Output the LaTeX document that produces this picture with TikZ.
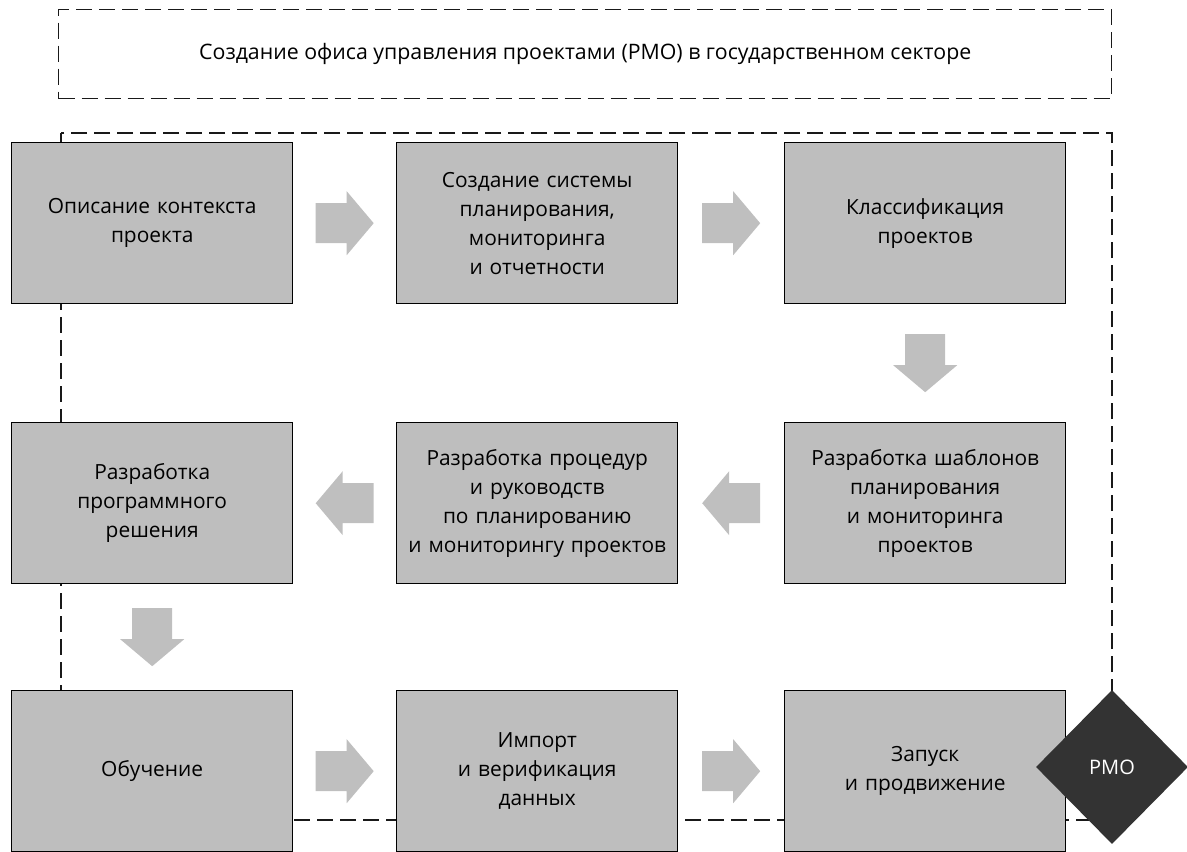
\documentclass[tikz,border=0pt]{standalone}
\usepackage{fontspec}
\setmainfont{Open Sans}
\usetikzlibrary{shapes.geometric,calc}
\definecolor{boxgray}{HTML}{BEBEBE}
\definecolor{arrowgray}{HTML}{BFBFBF}
\definecolor{pmodark}{HTML}{333333}
\tikzset{
  stepbox/.style={draw=black, line width=1.4pt, fill=boxgray, minimum width=281pt, minimum height=161pt,
    inner sep=0pt, align=center, text width=278pt, font=\fontsize{20.9}{29}\selectfont, anchor=north west},
  frame/.style={draw=black!90, line width=1.4pt, dash pattern=on 16pt off 7pt},
  rarrow/.pic={\fill[arrowgray] (-29,-20) -- (2,-20) -- (2,-32) -- (29,0) -- (2,32) -- (2,20) -- (-29,20) -- cycle;},
  larrow/.pic={\fill[arrowgray] (29,-20) -- (-2,-20) -- (-2,-32) -- (-29,0) -- (-2,32) -- (-2,20) -- (29,20) -- cycle;},
  darrow/.pic={\fill[arrowgray] (-20,-29) -- (-20,2) -- (-32,2) -- (0,29) -- (32,2) -- (20,2) -- (20,-29) -- cycle;},
}
\begin{document}
\begin{tikzpicture}[x=1pt,y=-1pt]
\useasboundingbox (0,0) rectangle (1187,852);
% frames
\node[frame, minimum width=1053pt, minimum height=89pt, inner sep=0pt, anchor=north west,
  font=\fontsize{21.3}{26}\selectfont] (title) at (58,9) {Создание офиса управления проектами (PMO) в государственном секторе};
\coordinate (f1) at (61,133);
\coordinate (f2) at (1112,820);
\draw[frame] (f1) rectangle (f2);
% boxes
\node[stepbox] (b1) at (11,142) {Описание контекста\\проекта};
\node[stepbox] (b2) at (396,142) {Создание системы\\планирования,\\мониторинга\\и отчетности};
\node[stepbox] (b3) at (784,142) {Классификация\\проектов};
\node[stepbox] (b4) at (11,422) {Разработка\\программного\\решения};
\node[stepbox] (b5) at (396,422) {Разработка процедур\\и руководств\\по планированию\\и мониторингу проектов};
\node[stepbox] (b6) at (784,422) {Разработка шаблонов\\планирования\\и мониторинга\\проектов};
\node[stepbox] (b7) at (11,690) {Обучение};
\node[stepbox] (b8) at (396,690) {Импорт\\и верификация\\данных};
\node[stepbox] (b9) at (784,690) {Запуск\\и продвижение};
% arrows
\pic at ($(b1.east)!0.5!(b2.west)$) {rarrow};
\pic at ($(b2.east)!0.5!(b3.west)$) {rarrow};
\pic at ($(b3.south)!0.5!(b6.north)$) {darrow};
\pic at ($(b6.west)!0.5!(b5.east)$) {larrow};
\pic at ($(b5.west)!0.5!(b4.east)$) {larrow};
\pic at ($(b4.south)!0.5!(b7.north)$) {darrow};
\pic at ($(b7.east)!0.5!(b8.west)$) {rarrow};
\pic at ($(b8.east)!0.5!(b9.west)$) {rarrow};
% PMO diamond
\node[diamond, fill=pmodark, minimum width=152pt, minimum height=154pt, inner sep=0pt, aspect=1,
  text=white, font=\fontsize{20}{24}\selectfont] (pmo) at (1112,767) {PMO};
\end{tikzpicture}
\end{document}
